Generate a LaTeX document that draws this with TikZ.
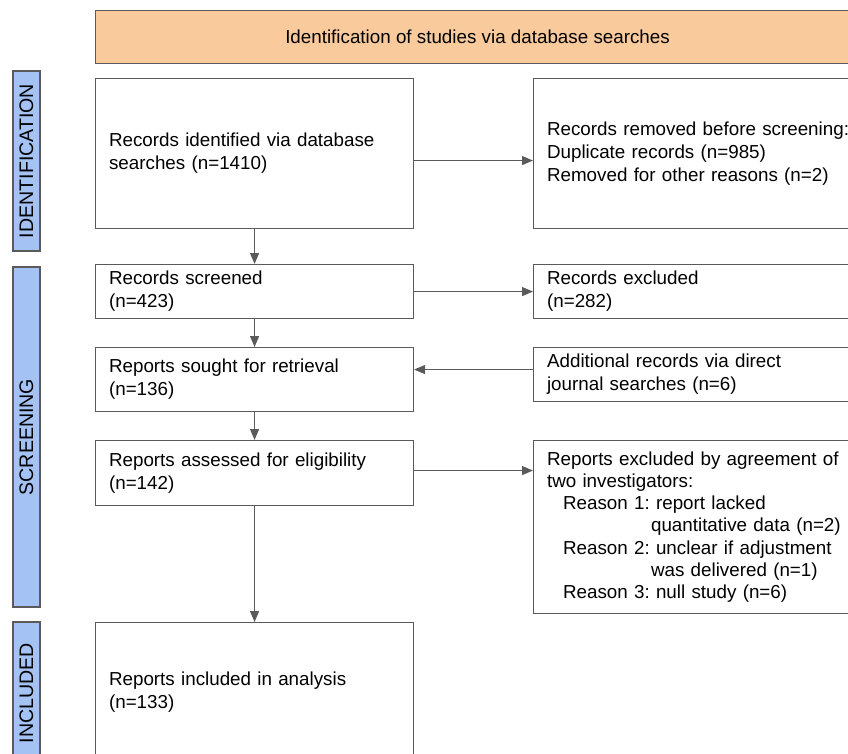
\documentclass[tikz,border=0pt]{standalone}
\usepackage{fontspec}
\setmainfont{Liberation Sans}
\usetikzlibrary{arrows.meta}
\definecolor{linegray}{HTML}{5A5A5A}
\definecolor{bluefill}{HTML}{A4C2F4}
\definecolor{orangefill}{HTML}{F9CB9C}
\newcommand\fsz{\fontsize{18.8}{23}\selectfont}
\newcommand\fszr{\fontsize{18.8}{22.3}\selectfont}
\newcommand\fszl{\fontsize{19.6}{23}\selectfont}
\frenchspacing
\begin{document}
\frenchspacing
\begin{tikzpicture}[x=1pt,y=-1pt,
  box/.style={draw=linegray, line width=1.1pt, fill=white, anchor=north west,
    inner xsep=13.5pt, inner ysep=0pt, align=left, font=\fsz},
  lbox/.style={box, text width=291pt},
  rbox/.style={box, text width=310pt},
  lab/.style={draw=linegray, line width=1.1pt, fill=bluefill, rotate=90,
    minimum height=27pt, inner sep=0pt, font=\fszl},
  banner/.style={draw=linegray, line width=1.1pt, fill=orangefill, anchor=north west,
    minimum width=764pt, minimum height=53pt, inner sep=0pt, font=\fsz},
  arr/.style={draw=linegray, line width=1.1pt, -{Triangle[length=11pt,width=9pt]}}
]
\useasboundingbox (0,0) rectangle (848,753);
\clip (0,0) rectangle (848,753);

\node[banner] (title) at (95,10) {Identification of studies via database searches};

\node[lab, minimum width=180pt] (labid) at (26.5,161) {IDENTIFICATION};
\node[lab, minimum width=340pt] (labscr) at (26.5,437) {SCREENING};
\node[lab, minimum width=142pt] (labinc) at (26.5,693) {INCLUDED};

\node[lbox, minimum height=150pt] (b1) at (95,78) {Records identified via database\\searches (n=1410)};
\node[lbox, minimum height=54pt] (b2) at (95,264) {Records screened\\(n=423)};
\node[lbox, minimum height=64pt] (b3) at (95,347) {Reports sought for retrieval\\(n=136)};
\node[lbox, minimum height=65pt] (b4) at (95,440) {Reports assessed for eligibility\\(n=142)};
\node[lbox, minimum height=140pt] (b5) at (95,622) {Reports included in analysis\\(n=133)};

\node[rbox, minimum height=150pt] (r1) at (533,78) {Records removed before screening:\\Duplicate records (n=985)\\Removed for other reasons (n=2)};
\node[rbox, minimum height=54pt] (r2) at (533,264) {Records excluded\\(n=282)};
\node[rbox, minimum height=54pt] (r3) at (533,347) {Additional records via direct\\journal searches (n=6)};
\node[rbox, minimum height=173pt, font=\fszr] (r4) at (533,440) {Reports excluded by agreement of\\two investigators:\\
\hspace*{16pt}Reason 1: report lacked\\\hspace*{104pt}quantitative data (n=2)\\
\hspace*{16pt}Reason 2: unclear if adjustment\\\hspace*{104pt}was delivered (n=1)\\
\hspace*{16pt}Reason 3: null study (n=6)};

\draw[arr] (b1) -- (b2);
\draw[arr] (b2) -- (b3);
\draw[arr] (b3) -- (b4);
\draw[arr] (b4) -- (b5);
\draw[arr] ([yshift=-7pt]b1.east) -- ([yshift=-7pt]b1.east -| r1.west);
\draw[arr] (b2.east) -- (b2.east -| r2.west);
\draw[arr] ([yshift=5pt]r3.west) -- ([yshift=5pt]r3.west -| b3.east);
\draw[arr] ([yshift=2.5pt]b4.east) -- ([yshift=2.5pt]b4.east -| r4.west);
\end{tikzpicture}
\end{document}
